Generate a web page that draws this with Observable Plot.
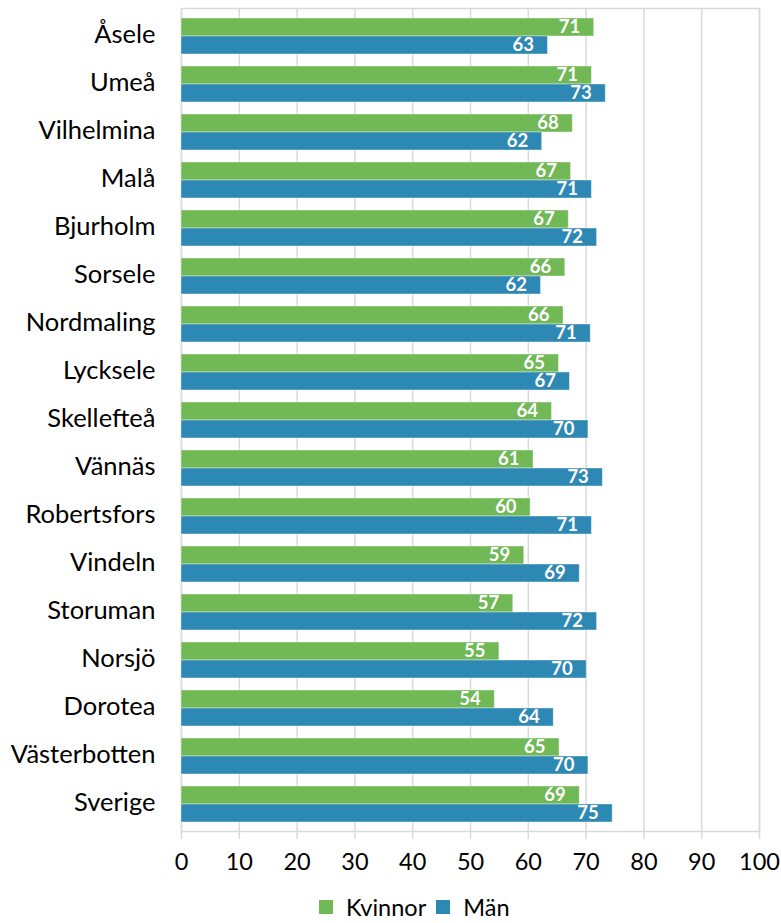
<!DOCTYPE html>
<html><head><meta charset="utf-8">
<script src="https://cdn.jsdelivr.net/npm/d3@7"></script>
<script src="https://cdn.jsdelivr.net/npm/@observablehq/plot@0.6"></script>
<style>
body{margin:0;background:#fff;font-family:Lato,sans-serif;}
#chart{position:relative;width:781px;height:923px;overflow:hidden;background:#fff}
.legend{position:absolute;left:319px;top:894px;display:flex;align-items:center;font-size:23.5px;line-height:26px;color:#000;font-family:Lato,sans-serif}
.sw{width:14px;height:14px;display:inline-block;margin-right:13px}
.item{display:flex;align-items:center;margin-right:10px}
</style></head>
<body><div id="chart"></div>
<script>
const categories = ["Åsele","Umeå","Vilhelmina","Malå","Bjurholm","Sorsele","Nordmaling","Lycksele","Skellefteå","Vännäs","Robertsfors","Vindeln","Storuman","Norsjö","Dorotea","Västerbotten","Sverige"];
const kvinnor = [71.4, 71.0, 67.7, 67.4, 67.0, 66.4, 66.1, 65.3, 64.1, 60.9, 60.4, 59.3, 57.4, 55.0, 54.2, 65.4, 68.9];
const man     = [63.4, 73.4, 62.4, 71.0, 71.9, 62.2, 70.8, 67.2, 70.4, 72.9, 71.0, 68.9, 71.9, 70.1, 64.4, 70.4, 74.6];
const series = ["Kvinnor", "Män"];
const colors = ["#71b857", "#2e88b4"];
const xTicks = d3.range(0, 101, 10);

const data = categories.flatMap((c, i) => [
  {cat: c, serie: series[0], value: kvinnor[i]},
  {cat: c, serie: series[1], value: man[i]}
]);
const dk = data.filter(d => d.serie === series[0]);
const dm = data.filter(d => d.serie === series[1]);

const plot = Plot.plot({
  width: 781, height: 890,
  marginLeft: 181, marginRight: 22, marginTop: 8, marginBottom: 59,
  style: {fontFamily: "Lato, sans-serif", fontSize: "23.5px", color: "#000", background: "#fff"},
  x: {domain: [0, 100], ticks: xTicks, label: null},
  y: {domain: categories, paddingInner: 0.256, paddingOuter: 0.128, label: null},
  color: {domain: series, range: colors},
  marks: [
    Plot.gridX(xTicks, {stroke: "#d9d9d9", strokeOpacity: 1, strokeWidth: 1.5}),
    Plot.frame({stroke: "#d9d9d9", strokeWidth: 1.5}),
    Plot.barX(dk, {x: "value", y: "cat", fill: "serie", insetBottom: 18, stroke: "#fff", strokeOpacity: 0.5, strokeWidth: 0.8}),
    Plot.barX(dm, {x: "value", y: "cat", fill: "serie", insetTop: 18, stroke: "#fff", strokeOpacity: 0.5, strokeWidth: 0.8}),
    Plot.text(dk, {x: "value", y: "cat", text: d => Math.round(d.value), dy: -9, dx: -14, textAnchor: "end", lineHeight: 0.9, fill: "#fff", fontWeight: "bold", fontSize: 18.5}),
    Plot.text(dm, {x: "value", y: "cat", text: d => Math.round(d.value), dy: 9, dx: -14, textAnchor: "end", lineHeight: 0.9, fill: "#fff", fontWeight: "bold", fontSize: 18.5}),
    Plot.axisX({ticks: xTicks, tickSize: 8, stroke: "#d9d9d9", strokeWidth: 1.5, tickPadding: 14, fontSize: 23.5, fill: "#000"}),
    Plot.axisY({tickSize: 0, tickPadding: 26, dy: -2, fontSize: 25.5, fill: "#000"})
  ]
});
const chart = document.getElementById("chart");
chart.appendChild(plot);
const legend = document.createElement("div");
legend.className = "legend";
series.forEach((s, i) => {
  const it = document.createElement("div");
  it.className = "item";
  const sw = document.createElement("span");
  sw.className = "sw";
  sw.style.background = colors[i];
  const tx = document.createElement("span");
  tx.textContent = s;
  it.appendChild(sw); it.appendChild(tx);
  legend.appendChild(it);
});
chart.appendChild(legend);
</script>
</body></html>
